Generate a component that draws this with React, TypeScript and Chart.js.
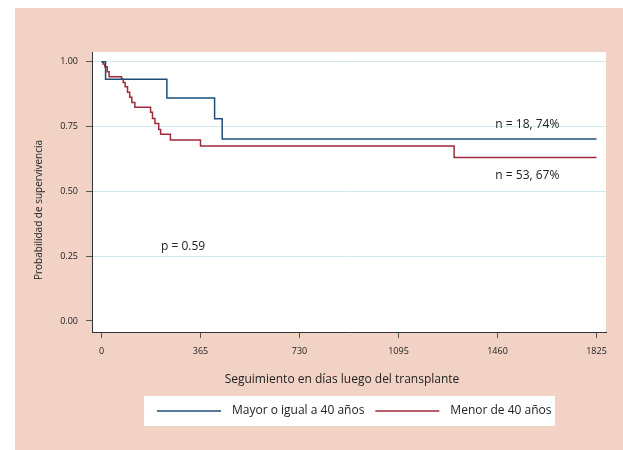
import React, { useEffect, useRef } from 'react';
import { Chart, registerables } from 'chart.js';

Chart.register(...registerables);

// ---- data ----
const X_TICKS = [0, 365, 730, 1095, 1460, 1825];
const Y_TICKS = [0, 0.25, 0.5, 0.75, 1];

const OLDER_LABEL = 'Mayor o igual a 40 años';
const OLDER_DAYS = [0, 15, 241, 417, 445, 1825];
const OLDER_SURV = [1, 0.932, 0.86, 0.78, 0.702, 0.702];

const YOUNGER_LABEL = 'Menor de 40 años';
const YOUNGER_DAYS = [0, 6, 12, 21, 28, 74, 80, 87, 96, 104, 112, 123, 181, 188, 197, 211, 218, 254, 365, 1300, 1825];
const YOUNGER_SURV = [1, 0.991, 0.981, 0.961, 0.942, 0.932, 0.92, 0.903, 0.882, 0.863, 0.843, 0.824, 0.805, 0.781, 0.762, 0.739, 0.72, 0.698, 0.675, 0.631, 0.631];

const X_TITLE = 'Seguimiento en días luego del transplante';
const Y_TITLE = 'Probabilidad de supervivencia';
const NOTE_TEXTS = ['n = 18, 74%', 'n = 53, 67%', 'p = 0.59'];
// anchors of the notes, in data units (day, probability)
const NOTE_DAYS = [1570, 1570, 301];
const NOTE_PROBS = [0.758, 0.559, 0.286];

// ---- style ----
const FONT = "'Open Sans', sans-serif";
const PINK = '#f1d2c5';
const GRID = '#d3e8ee';
const BLUE = '#1e4d78';
const RED = '#9e2a3a';
const TEXT = '#222';

const decor = {
  id: 'decor',
  beforeDraw(chart: any) {
    const { ctx, chartArea: a } = chart;
    ctx.save();
    ctx.fillStyle = '#ffffff';
    ctx.fillRect(0, 0, chart.width, chart.height);
    ctx.fillStyle = PINK;
    ctx.fillRect(15, 8, chart.width - 15, chart.height - 8);
    ctx.fillStyle = '#ffffff';
    ctx.fillRect(a.left, a.top, a.right - a.left, a.bottom - a.top);
    ctx.restore();
  },
  afterDraw(chart: any) {
    const { ctx } = chart;
    const xs = chart.scales.x;
    const ys = chart.scales.y;
    ctx.save();
    ctx.fillStyle = TEXT;
    ctx.textBaseline = 'middle';

    // notes
    ctx.font = `12px ${FONT}`;
    ctx.textAlign = 'center';
    NOTE_TEXTS.forEach((t, i) => {
      ctx.fillText(t, xs.getPixelForValue(NOTE_DAYS[i]), ys.getPixelForValue(NOTE_PROBS[i]));
    });

    // x title
    ctx.font = `12px ${FONT}`;
    ctx.fillText(X_TITLE, 342, 380);

    // y title
    ctx.save();
    ctx.translate(39, 210);
    ctx.rotate(-Math.PI / 2);
    ctx.font = `10px ${FONT}`;
    ctx.fillText(Y_TITLE, 0, 0);
    ctx.restore();

    // legend
    ctx.fillStyle = '#ffffff';
    ctx.fillRect(144, 396, 411, 30);
    ctx.font = `12px ${FONT}`;
    ctx.textAlign = 'left';
    let x = 157;
    const ly = 411;
    chart.data.datasets.forEach((ds: any) => {
      ctx.strokeStyle = ds.borderColor;
      ctx.lineWidth = 1.5;
      ctx.beginPath();
      ctx.moveTo(x, ly);
      ctx.lineTo(x + 64, ly);
      ctx.stroke();
      x += 75;
      ctx.fillStyle = TEXT;
      ctx.fillText(ds.label, x, ly);
      x += ctx.measureText(ds.label).width + 11;
    });
    ctx.restore();
  },
};

export default function App() {
  const ref = useRef<HTMLCanvasElement | null>(null);

  useEffect(() => {
    if (!ref.current) return;
    Chart.defaults.font.family = FONT;
    const chart = new Chart(ref.current, {
      type: 'line',
      data: {
        datasets: [
          {
            label: OLDER_LABEL,
            data: OLDER_DAYS.map((d, i) => ({ x: d, y: OLDER_SURV[i] })),
            borderColor: BLUE,
            borderWidth: 1.5,
            stepped: 'before',
            pointRadius: 0,
            fill: false,
          },
          {
            label: YOUNGER_LABEL,
            data: YOUNGER_DAYS.map((d, i) => ({ x: d, y: YOUNGER_SURV[i] })),
            borderColor: RED,
            borderWidth: 1.5,
            stepped: 'before',
            pointRadius: 0,
            fill: false,
          },
        ],
      },
      options: {
        responsive: false,
        animation: false,
        layout: { padding: { top: 52, right: 17, left: 0, bottom: 78 } },
        plugins: { legend: { display: false }, tooltip: { enabled: false } },
        scales: {
          x: {
            type: 'linear',
            min: -35,
            max: 1860,
            afterBuildTicks: (s: any) => {
              s.ticks = X_TICKS.map((v) => ({ value: v }));
            },
            afterFit: (s: any) => {
              s.height = 40;
            },
            grid: { drawOnChartArea: false, tickColor: '#555', tickLength: 6 },
            border: { color: '#333', width: 1 },
            ticks: {
              font: { family: FONT, size: 9 },
              color: TEXT,
              padding: 8,
              maxRotation: 0,
              autoSkip: false,
              callback: (v: any) => String(v),
            },
          },
          y: {
            type: 'linear',
            min: -0.0425,
            max: 1.0375,
            afterBuildTicks: (s: any) => {
              s.ticks = Y_TICKS.map((v) => ({ value: v }));
            },
            afterFit: (s: any) => {
              s.width = 92;
            },
            grid: {
              color: (c: any) => (c.tick && c.tick.value === 0 ? 'rgba(0,0,0,0)' : GRID),
              tickColor: '#555',
              tickLength: 6,
            },
            border: { color: '#333', width: 1 },
            ticks: {
              font: { family: FONT, size: 9 },
              color: TEXT,
              padding: 8,
              callback: (v: any) => Number(v).toFixed(2),
            },
          },
        },
      },
      plugins: [decor],
    } as any);
    return () => chart.destroy();
  }, []);

  return (
    <div style={{ position: 'fixed', left: 0, top: 0, width: 623, height: 450, background: '#fff' }}>
      <canvas ref={ref} width={623} height={450} style={{ display: 'block' }} />
    </div>
  );
}
